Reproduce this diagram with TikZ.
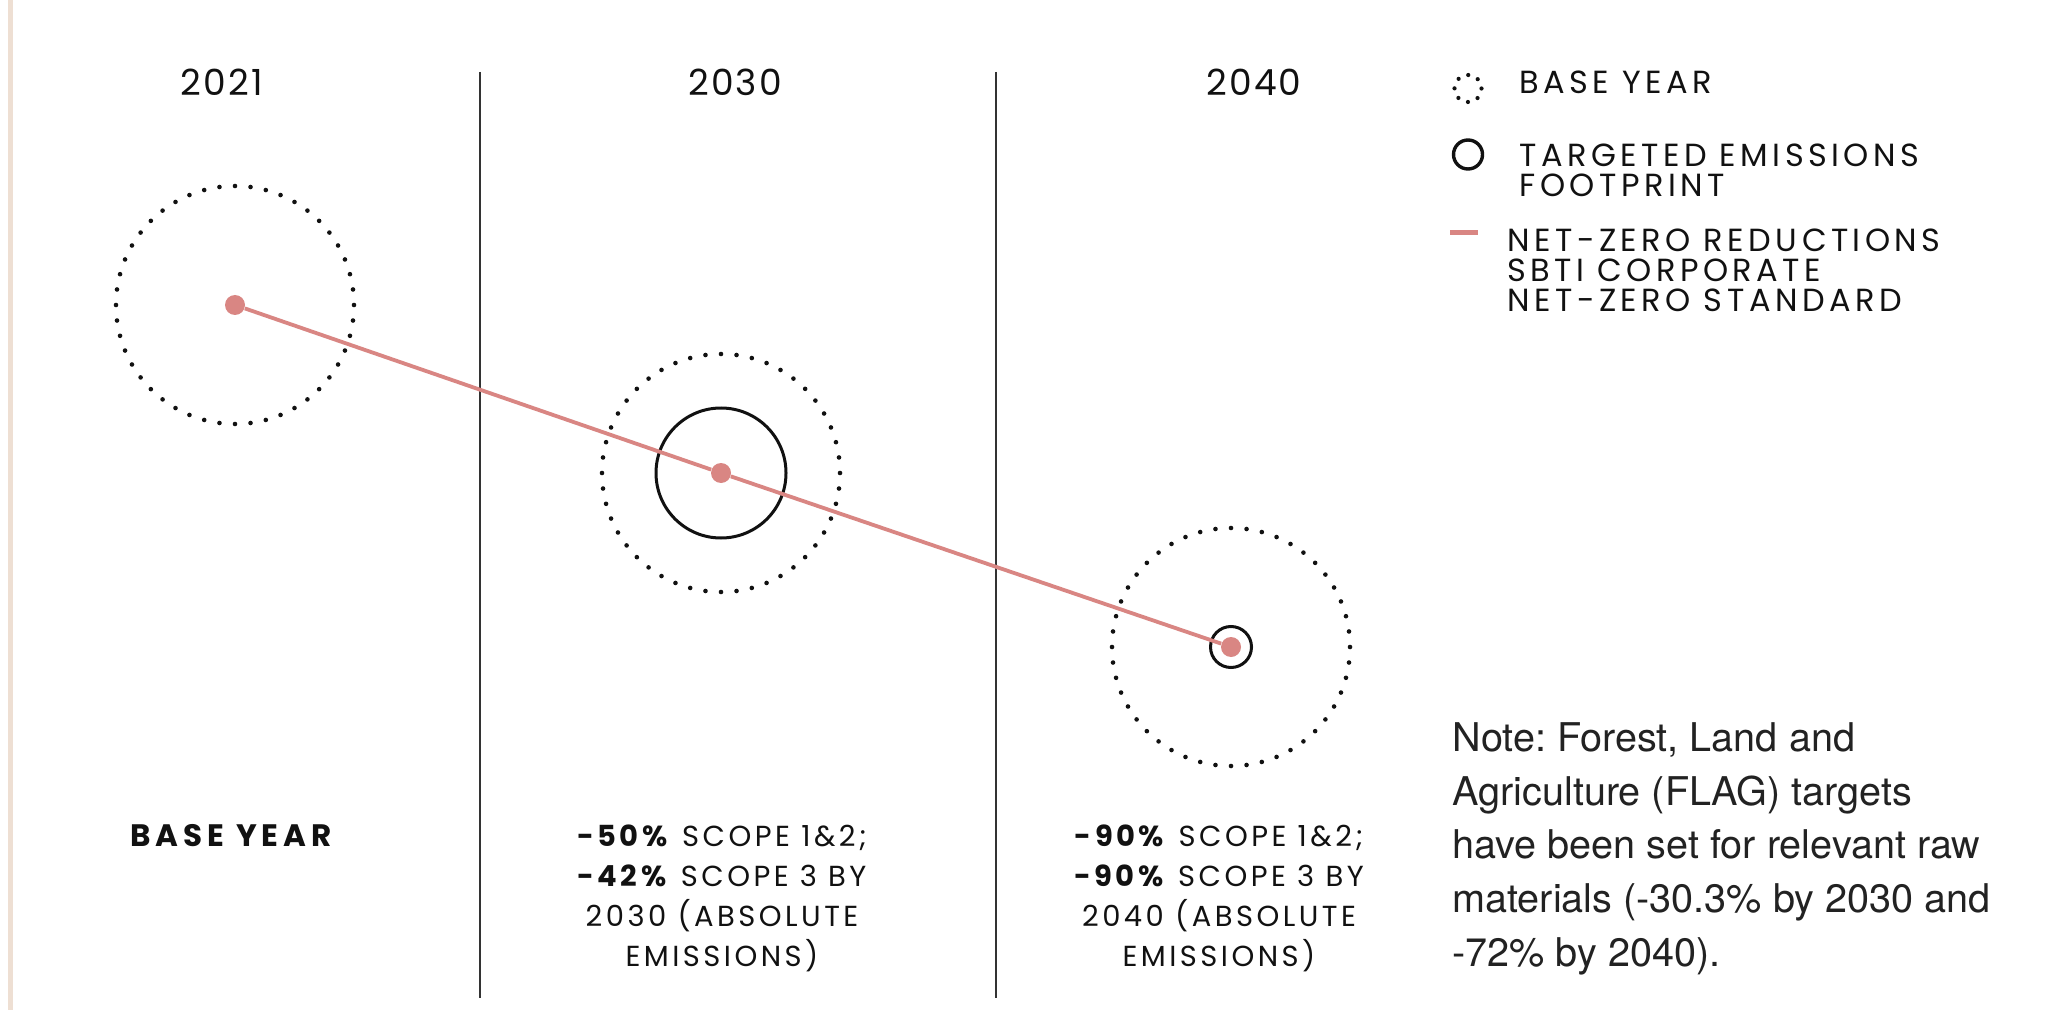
\documentclass[tikz,border=0pt]{standalone}
\usepackage{fontspec}
\setmainfont{Poppins}
\newfontfamily\yearfont{Poppins}[LetterSpace=6]
\newfontfamily\legendfont{Poppins}[LetterSpace=14]
\newfontfamily\goalfont{Poppins}[LetterSpace=12]
\newfontfamily\basefont{Poppins}[LetterSpace=16]
\newfontfamily\notefont{TeX Gyre Heros}

\definecolor{ink}{HTML}{111111}
\definecolor{notegray}{HTML}{222222}
\definecolor{rule}{HTML}{333333}
\definecolor{blush}{HTML}{D98683}
\definecolor{sand}{HTML}{EEDFD3}

\tikzset{
  yearlbl/.style={inner sep=0pt, anchor=base, text=ink,
    font=\yearfont\fontsize{18}{22}\selectfont},
  legtxt/.style={inner sep=0pt, anchor=base west, align=left, text=ink,
    font=\legendfont\fontsize{16}{15}\selectfont},
  goal/.style={inner sep=0pt, anchor=base, align=center, text=ink,
    font=\goalfont\fontsize{14.5}{20}\selectfont},
  notetxt/.style={inner sep=0pt, anchor=base west, align=left, text=notegray,
    font=\notefont\fontsize{19.8}{26.8}\selectfont\frenchspacing},
  divider/.style={draw=rule, line width=0.75pt},
  baseline ring/.style={draw=ink, line width=2.3pt, line cap=round,
    dash pattern=on 0pt off 7.789pt},
  target ring/.style={draw=ink, line width=1.5pt},
  pathdot/.style={circle, fill=blush, inner sep=0pt, minimum size=10pt},
  netzero/.style={draw=blush, line width=1.9pt},
}

\begin{document}
\begin{tikzpicture}[x=0.5pt, y=-0.5pt]
\useasboundingbox (0,0) rectangle (2049,1010);
\fill[white] (0,0) rectangle (2049,1010);

% left margin bar
\fill[sand] (8,0) rectangle (12.5,1010);

% column dividers
\draw[divider] (480,72) -- (480,998);
\draw[divider] (996,72) -- (996,998);

% year headings
\node[yearlbl] (y1) at (222,96) {2021};
\node[yearlbl] (y2) at (735,96) {2030};
\node[yearlbl] (y3) at (1254,96) {2040};

% emission circles
\coordinate (c1) at (235,305);
\coordinate (c2) at (721,473);
\coordinate (c3) at (1231,647);
\draw[baseline ring] (c1) circle (119);
\draw[baseline ring] (c2) circle (119);
\draw[baseline ring] (c3) circle (119);
\draw[target ring] (c2) circle (65);
\draw[target ring] (c3) circle (20.5);

% net-zero pathway
\node[pathdot] (p1) at (c1) {};
\node[pathdot] (p2) at (c2) {};
\node[pathdot] (p3) at (c3) {};
\draw[netzero] (p1) -- (p2) -- (p3);

% legend
\draw[draw=ink, line width=2.1pt, line cap=round, dash pattern=on 0pt off 5.3pt]
  (1468,88.5) circle (13.5);
\draw[draw=ink, line width=1.7pt] (1468,154.5) circle (14.5);
\coordinate (ls) at (1450,232.5);
\coordinate (le) at (1478,232.5);
\draw[draw=blush, line width=2.3pt] (ls) -- (le);
% (multi-line nodes sit on the baseline of their last line)
\node[legtxt] (l1) at (1519,94) {BASE YEAR};
\node[legtxt] (l2) at (1519,197) {TARGETED EMISSIONS\\FOOTPRINT};
\node[legtxt] (l3) at (1507,312) {NET-ZERO REDUCTIONS\\SBTI CORPORATE\\NET-ZERO STANDARD};

% targets per period
\node[goal, font=\basefont\bfseries\fontsize{15.5}{20}\selectfont] (g1) at (231,846) {BASE YEAR};
\node[goal] (g2) at (722,966) {\textbf{-50\%} SCOPE 1\&2;\\\textbf{-42\%} SCOPE 3 BY\\2030 (ABSOLUTE\\EMISSIONS)};
\node[goal] (g3) at (1219,966) {\textbf{-90\%} SCOPE 1\&2;\\\textbf{-90\%} SCOPE 3 BY\\2040 (ABSOLUTE\\EMISSIONS)};

% footnote
\node[notetxt] (nt) at (1452,966) {Note: Forest, Land and\\Agriculture (FLAG) targets\\have been set for relevant raw\\materials (-30.3\% by 2030 and\\-72\% by 2040).};
\end{tikzpicture}
\end{document}
